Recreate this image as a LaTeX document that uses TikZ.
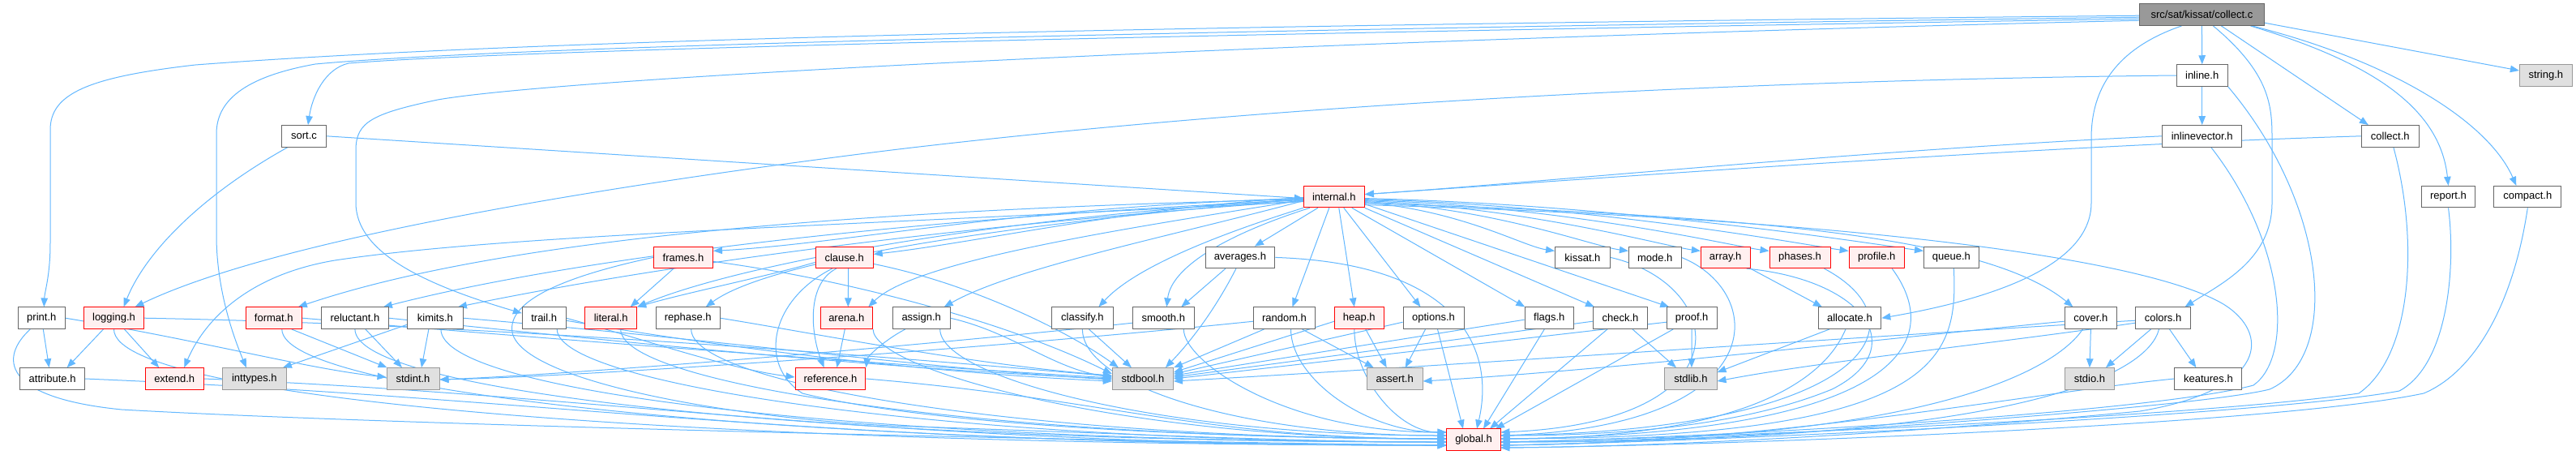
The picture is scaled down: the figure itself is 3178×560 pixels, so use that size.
\documentclass[tikz,border=0pt]{standalone}
\usepackage{fontspec}
\setmainfont{Liberation Sans}
\usetikzlibrary{arrows.meta}
\definecolor{edgec}{HTML}{63B8FF}
\definecolor{nodeb}{HTML}{666666}
\definecolor{redb}{HTML}{FF0000}
\definecolor{redf}{HTML}{FFF0F0}
\definecolor{sysb}{HTML}{999999}
\definecolor{sysf}{HTML}{E0E0E0}
\definecolor{rootf}{HTML}{999999}
\pgfdeclarelayer{bglayer}
\pgfdeclarelayer{edgelayer}
\pgfsetlayers{bglayer,edgelayer,main}
\begin{document}
\begin{tikzpicture}[x=1pt,y=1pt,
  base/.style={line width=1pt, minimum height=26.5pt, inner sep=0pt, font=\fontsize{13}{15}\selectfont},
  nd/.style={base, draw=nodeb, fill=white},
  rd/.style={base, draw=redb, fill=redf},
  sy/.style={base, draw=sysb, fill=sysf},
  rt/.style={base, draw=nodeb, fill=rootf},
  edg/.style={draw=edgec, line width=1pt, -{Triangle[length=11pt,width=8.5pt]}},
]
\begin{pgfonlayer}{bglayer}
\fill[white] (0,0) rectangle (3178,-560);
\end{pgfonlayer}
\useasboundingbox (0,0) rectangle (3178,-560);
% row 0
\node[rt, minimum width=154.1pt] (collectc) at (2716.4,-18.2) {src/sat/kissat/collect.c};
% row 1
\node[nd, minimum width=62.8pt] (inline) at (2716.7,-93) {inline.h};
\node[sy, minimum width=64.9pt] (string) at (3140.8,-93) {string.h};
% row 2
\node[nd, minimum width=54.4pt] (sortc) at (375,-167.8) {sort.c};
\node[nd, minimum width=98.5pt] (inlinevector) at (2716.7,-167.8) {inlinevector.h};
\node[nd, minimum width=70.6pt] (collecth) at (2948.8,-167.8) {collect.h};
% row 3
\node[rd, minimum width=75pt] (internal) at (1645.8,-242.6) {internal.h};
\node[nd, minimum width=65.8pt] (report) at (3020.5,-242.6) {report.h};
\node[nd, minimum width=83pt] (compact) at (3118.3,-242.6) {compact.h};
% row 4
\node[rd, minimum width=73pt] (frames) at (843,-317.4) {frames.h};
\node[rd, minimum width=71pt] (clause) at (1041.7,-317.4) {clause.h};
\node[nd, minimum width=85.7pt] (averages) at (1529.9,-317.4) {averages.h};
\node[nd, minimum width=67.8pt] (kissat) at (1952.4,-317.4) {kissat.h};
\node[nd, minimum width=64.6pt] (mode) at (2041.7,-317.4) {mode.h};
\node[rd, minimum width=60.7pt] (array) at (2128.7,-317.4) {array.h};
\node[rd, minimum width=75pt] (phases) at (2220.5,-317.4) {phases.h};
\node[rd, minimum width=68.3pt] (profile) at (2315.2,-317.4) {profile.h};
\node[nd, minimum width=67.9pt] (queue) at (2407.4,-317.4) {queue.h};
% row 5
\node[nd, minimum width=57.8pt] (print) at (51.3,-392.2) {print.h};
\node[rd, minimum width=73.6pt] (logging) at (140.5,-392.2) {logging.h};
\node[rd, minimum width=69.6pt] (format) at (337.8,-392.2) {format.h};
\node[nd, minimum width=82.3pt] (reluctant) at (437.9,-392.2) {reluctant.h};
\node[nd, minimum width=68.2pt] (kimits) at (536.9,-392.2) {kimits.h};
\node[nd, minimum width=53.7pt] (trail) at (671.2,-392.2) {trail.h};
\node[rd, minimum width=63.7pt] (literal) at (753.7,-392.2) {literal.h};
\node[nd, minimum width=78.8pt] (rephase) at (848.7,-392.2) {rephase.h};
\node[rd, minimum width=64.5pt] (arena) at (1044.3,-392.2) {arena.h};
\node[nd, minimum width=70.7pt] (assign) at (1136.7,-392.2) {assign.h};
\node[nd, minimum width=76.7pt] (classify) at (1335.4,-392.2) {classify.h};
\node[nd, minimum width=75.5pt] (smooth) at (1435.3,-392.2) {smooth.h};
\node[nd, minimum width=75.8pt] (random) at (1584.5,-392.2) {random.h};
\node[rd, minimum width=60.5pt] (heap) at (1676.8,-392.2) {heap.h};
\node[nd, minimum width=75pt] (options) at (1768.5,-392.2) {options.h};
\node[nd, minimum width=60.6pt] (flags) at (1911.3,-392.2) {flags.h};
\node[nd, minimum width=67.5pt] (check) at (1999,-392.2) {check.h};
\node[nd, minimum width=61.7pt] (proof) at (2087.2,-392.2) {proof.h};
\node[nd, minimum width=77.8pt] (allocate) at (2281.9,-392.2) {allocate.h};
\node[nd, minimum width=64.7pt] (cover) at (2579.4,-392.2) {cover.h};
\node[nd, minimum width=67.9pt] (colors) at (2668.5,-392.2) {colors.h};
% row 6
\node[nd, minimum width=79.5pt] (attribute) at (64.6,-467) {attribute.h};
\node[rd, minimum width=71.6pt] (extend) at (215.2,-467) {extend.h};
\node[sy, minimum width=78.8pt] (inttypes) at (313.9,-467) {inttypes.h};
\node[sy, minimum width=65pt] (stdint) at (509.5,-467) {stdint.h};
\node[rd, minimum width=86.9pt] (reference) at (1024.5,-467) {reference.h};
\node[sy, minimum width=75.1pt] (stdbool) at (1409.9,-467) {stdbool.h};
\node[sy, minimum width=68.6pt] (assert) at (1720.7,-467) {assert.h};
\node[sy, minimum width=64.2pt] (stdlib) at (2085.9,-467) {stdlib.h};
\node[sy, minimum width=60.9pt] (stdio) at (2577.9,-467) {stdio.h};
\node[nd, minimum width=83pt] (keatures) at (2724.4,-467) {keatures.h};
% row 7
\node[rd, minimum width=66.8pt] (global) at (1818,-541.8) {global.h};
% arrival points on global.h
\coordinate (gl1) at (1784.6,-533);
\coordinate (gl2) at (1784.6,-537);
\coordinate (gl3) at (1784.6,-541);
\coordinate (gl4) at (1784.6,-545);
\coordinate (gl5) at (1784.6,-549);
\coordinate (gr1) at (1851.4,-533);
\coordinate (gr2) at (1851.4,-537);
\coordinate (gr3) at (1851.4,-541);
\coordinate (gr4) at (1851.4,-545);
\coordinate (gr5) at (1851.4,-549);
\coordinate (gr6) at (1851.4,-552);
\coordinate (gt1) at (1805,-528.6);
\coordinate (gt2) at (1814,-528.6);
\coordinate (gt3) at (1822,-528.6);
\coordinate (gt4) at (1830,-528.6);
\coordinate (gt5) at (1838,-528.6);
\coordinate (gt6) at (1845,-528.6);

\begin{pgfonlayer}{edgelayer}
% ---------- collect.c
\draw[edg] (collectc.south) -- (inline.north);
\draw[edg] ([yshift=-10pt]collectc.east) -- ([yshift=6pt]string.west);
\draw[edg] ([xshift=62pt]collectc.south) .. controls (2950,-75) and (3070,-150) .. ([xshift=-14pt]compact.north);
\draw[edg] ([xshift=60pt]collectc.south) .. controls (2920,-75) and (3010,-130) .. (report.north);
\draw[edg] ([xshift=24pt]collectc.south) -- ([xshift=-27pt]collecth.north);
\draw[edg] ([xshift=14pt]collectc.south) .. controls (2800,-90) and (2803,-130) .. (2803,-170) -- (2803,-250) .. controls (2803,-320) and (2740,-350) .. ([xshift=27pt]colors.north);
\draw[edg] ([xshift=-25pt]collectc.south) .. controls (2610,-60) and (2580,-110) .. (2580,-170) -- (2580,-250) .. controls (2580,-330) and (2450,-370) .. (allocate.east);
\draw[edg] ([yshift=-1pt]collectc.west) .. controls (1600,-30) and (700,-45) .. (241,-80) .. controls (110,-95) and (62,-115) .. (62,-160) -- (62,-300) .. controls (62,-340) and (55,-360) .. ([xshift=3pt]print.north);
\draw[edg] ([yshift=-3pt]collectc.west) .. controls (1600,-35) and (650,-55) .. (389,-79) .. controls (300,-95) and (267,-125) .. (267,-165) -- (267,-290) .. controls (267,-360) and (290,-420) .. ([xshift=-10pt]inttypes.north);
\draw[edg] ([yshift=-5pt]collectc.west) .. controls (1600,-40) and (650,-60) .. (430,-78) .. controls (400,-85) and (385,-120) .. ([xshift=5pt]sortc.north);
\draw[edg] ([yshift=-7pt]collectc.west) .. controls (1600,-50) and (700,-95) .. (540,-123) .. controls (460,-140) and (439,-150) .. (439,-185) -- (439,-250) .. controls (439,-310) and (520,-350) .. ([yshift=6pt]trail.west);
% ---------- inline.h, inlinevector.h, collect.h, report.h, compact.h
\draw[edg] (inline.south) -- (inlinevector.north);
\draw[edg] (inline.west) .. controls (2200,-98) and (1600,-125) .. (1100,-185) .. controls (700,-235) and (330,-300) .. ([xshift=26pt]logging.north);
\draw[edg] (inline.south east) .. controls (2870,-250) and (2890,-440) .. (2800,-480) .. controls (2700,-505) and (2100,-545) .. (gr5);
\draw[edg] (inlinevector.west) .. controls (2300,-185) and (1900,-225) .. ([yshift=3pt]internal.east);
\draw[edg] ([xshift=11pt]inlinevector.south) .. controls (2820,-300) and (2830,-440) .. (2780,-475) .. controls (2650,-510) and (2100,-540) .. (gr4);
\draw[edg] (collecth.west) .. controls (2500,-180) and (1900,-225) .. ([yshift=3pt]internal.east);
\draw[edg] ([xshift=4pt]collecth.south) .. controls (2985,-300) and (2975,-440) .. (2910,-485) .. controls (2700,-515) and (2100,-540) .. (gr4);
\draw[edg] (report.south) .. controls (3030,-330) and (3020,-450) .. (2960,-482) .. controls (2800,-512) and (2100,-545) .. (gr5);
\draw[edg] (compact.south) .. controls (3100,-380) and (3050,-460) .. (2990,-485) .. controls (2800,-525) and (2100,-550) .. (gr6);
% ---------- sort.c
\draw[edg] (sortc.east) -- ([yshift=-2pt]internal.west);
\draw[edg] ([xshift=-20pt]sortc.south) .. controls (250,-240) and (180,-310) .. ([xshift=12pt]logging.north);
% ---------- internal.h
\draw[edg] ([yshift=-3pt]internal.west) .. controls (1000,-260) and (600,-300) .. ([xshift=30pt]format.north);
\draw[edg] ([yshift=-4pt]internal.west) .. controls (1100,-270) and (700,-320) .. ([xshift=35pt]reluctant.north);
\draw[edg] ([yshift=-5pt]internal.west) .. controls (1150,-280) and (800,-330) .. ([xshift=28pt]kimits.north);
\draw[edg] ([yshift=-6pt]internal.west) .. controls (1000,-280) and (620,-290) .. (413,-321) .. controls (300,-340) and (250,-400) .. ([xshift=12pt]extend.north);
\draw[edg] ([yshift=-2pt]internal.west) .. controls (1250,-255) and (1050,-300) .. ([yshift=8pt]frames.east);
\draw[edg] ([yshift=-3pt]internal.west) .. controls (1200,-270) and (900,-330) .. (literal.north east);
\draw[edg] ([yshift=-3pt]internal.west) .. controls (1250,-275) and (950,-320) .. ([xshift=22pt]rephase.north);
\draw[edg] ([yshift=-1pt]internal.west) .. controls (1400,-255) and (1200,-300) .. ([yshift=4pt]clause.east);
\draw[edg] ([yshift=-4pt]internal.west) .. controls (1400,-280) and (1130,-320) .. ([xshift=27pt]arena.north);
\draw[edg] ([yshift=-5pt]internal.west) .. controls (1450,-290) and (1250,-330) .. ([xshift=28pt]assign.north);
\draw[edg] (internal.south west) .. controls (1500,-290) and (1400,-330) .. ([xshift=20pt]classify.north);
\draw[edg] ([xshift=-30pt]internal.south) .. controls (1510,-290) and (1445,-330) .. ([xshift=4pt]smooth.north);
\draw[edg] ([xshift=-20pt]internal.south) -- ([xshift=18pt]averages.north);
\draw[edg] ([xshift=-6pt]internal.south) -- ([xshift=10pt]random.north);
\draw[edg] ([xshift=6pt]internal.south) -- ([xshift=-6pt]heap.north);
\draw[edg] ([xshift=12pt]internal.south) -- ([xshift=-16pt]options.north);
\draw[edg] ([xshift=22pt]internal.south) -- ([xshift=-30pt]flags.north);
\draw[edg] (internal.south east) -- ([xshift=-32pt]check.north);
\draw[edg] ([yshift=-9pt]internal.east) -- ([xshift=-28pt]proof.north);
\draw[edg] ([yshift=-7pt]internal.east) .. controls +(120,-10) and +(-40,6) .. ([yshift=8pt]kissat.west);
\draw[edg] ([yshift=-6pt]internal.east) .. controls +(160,-8) and +(-45,6) .. ([yshift=8pt]mode.west);
\draw[edg] ([yshift=-5pt]internal.east) .. controls +(200,-8) and +(-45,6) .. ([yshift=8pt]array.west);
\draw[edg] ([yshift=-4pt]internal.east) .. controls +(250,-8) and +(-45,6) .. ([yshift=8pt]phases.west);
\draw[edg] ([yshift=-3pt]internal.east) .. controls +(290,-8) and +(-45,6) .. ([yshift=8pt]profile.west);
\draw[edg] ([yshift=-2pt]internal.east) .. controls +(330,-8) and +(-45,6) .. ([yshift=8pt]queue.west);
\draw[edg] ([yshift=-8pt]internal.east) .. controls (2150,-265) and (2450,-290) .. ([xshift=-22pt]cover.north);
\draw[edg] ([yshift=-10pt]internal.east) .. controls (2300,-270) and (2650,-320) .. (2743,-375) .. controls (2800,-410) and (2800,-480) .. (2640,-507) .. controls (2400,-530) and (2100,-550) .. (gr6);
% ---------- row 4 sources
\draw[edg] ([xshift=-12pt]frames.south) -- ([xshift=24pt]literal.north);
\draw[edg] ([yshift=-5pt]frames.east) .. controls (1050,-345) and (1250,-400) .. ([yshift=6pt]stdbool.west);
\draw[edg] (frames.west) .. controls (700,-340) and (625,-370) .. (632,-410) .. controls (645,-470) and (900,-515) .. (1100,-525) .. controls (1400,-535) and (1600,-545) .. (gl4);
\draw[edg] ([yshift=-6pt]clause.west) .. controls (950,-340) and (850,-360) .. (literal.north east);
\draw[edg] ([xshift=5pt]clause.south) -- ([xshift=2pt]arena.north);
\draw[edg] ([xshift=-10pt]clause.south) .. controls (995,-350) and (1000,-410) .. ([xshift=-8pt]reference.north);
\draw[edg] ([xshift=-15pt]clause.south) .. controls (950,-370) and (935,-450) .. (990,-485) .. controls (1150,-525) and (1500,-540) .. (gl3);
\draw[edg] ([yshift=-8pt]clause.east) .. controls (1200,-350) and (1320,-410) .. ([xshift=-30pt]stdbool.north);
\draw[edg] ([xshift=-18pt]averages.south) -- ([xshift=22pt]smooth.north);
\draw[edg] ([xshift=-5pt]averages.south) .. controls (1500,-380) and (1470,-420) .. ([xshift=28pt]stdbool.north);
\draw[edg] (averages.east) .. controls (1800,-325) and (1845,-430) .. (gt3);
\draw[edg] (kissat.east) .. controls (2130,-350) and (2160,-520) .. (gr1);
\draw[edg] (mode.east) .. controls (2180,-360) and (2190,-525) .. (gr2);
\draw[edg] (array.south east) -- ([xshift=-34pt]allocate.north);
\draw[edg] ([xshift=26pt]array.south) .. controls (2300,-345) and (2360,-430) .. (2260,-480) .. controls (2150,-525) and (2000,-537) .. (gr2);
\draw[edg] ([xshift=30pt]phases.south) .. controls (2380,-400) and (2300,-530) .. (gr2);
\draw[edg] ([xshift=19pt]profile.south) .. controls (2400,-420) and (2350,-535) .. (gr3);
\draw[edg] ([xshift=3pt]queue.south) .. controls (2415,-440) and (2400,-540) .. (gr3);
% ---------- row 5 sources
\draw[edg] ([xshift=2pt]print.south) -- ([xshift=-4pt]attribute.north);
\draw[edg] (print.east) .. controls (250,-420) and (380,-455) .. ([yshift=2pt]stdint.west);
\draw[edg] ([xshift=-14pt]print.south) .. controls (0,-440) and (0,-490) .. (150,-505) .. controls (500,-525) and (1400,-545) .. (gl5);
\draw[edg] ([xshift=-13pt]logging.south) -- ([xshift=18pt]attribute.north);
\draw[edg] ([xshift=13pt]logging.south) -- ([xshift=-19pt]extend.north);
\draw[edg] (logging.east) .. controls (600,-400) and (1100,-440) .. ([yshift=3pt]stdbool.west);
\draw[edg] (logging.south) .. controls +(0,-90) and +(-900,0) .. (gl5);
\draw[edg] ([xshift=22pt]format.south) -- ([xshift=-32pt]stdint.north);
\draw[edg] (format.east) .. controls (700,-420) and (1100,-450) .. ([yshift=1pt]stdbool.west);
\draw[edg] ([xshift=10pt]format.south) .. controls +(0,-80) and +(-800,0) .. (gl5);
\draw[edg] ([xshift=13pt]reluctant.south) -- ([xshift=-13.5pt]stdint.north);
\draw[edg] (reluctant.east) .. controls (800,-425) and (1100,-455) .. (stdbool.west);
\draw[edg] (reluctant.south) .. controls +(0,-80) and +(-750,0) .. (gl4);
\draw[edg] ([xshift=-8pt]kimits.south) -- ([xshift=10.5pt]stdint.north);
\draw[edg] ([yshift=-8pt]kimits.west) -- ([xshift=35pt]inttypes.north);
\draw[edg] (kimits.east) .. controls (900,-420) and (1150,-455) .. ([yshift=-1pt]stdbool.west);
\draw[edg] ([xshift=7pt]kimits.south) .. controls +(0,-80) and +(-700,0) .. (gl4);
\draw[edg] (trail.east) .. controls (800,-420) and (900,-455) .. ([yshift=2pt]reference.west);
\draw[edg] ([yshift=-3pt]trail.east) .. controls (900,-430) and (1150,-460) .. ([yshift=-3pt]stdbool.west);
\draw[edg] ([xshift=16pt]trail.south) .. controls +(0,-70) and +(-600,0) .. (gl4);
\draw[edg] ([xshift=12pt]literal.south) .. controls +(0,-70) and +(-550,0) .. (gl3);
\draw[edg] (rephase.east) .. controls (1000,-410) and (1200,-450) .. ([yshift=4pt]stdbool.west);
\draw[edg] ([xshift=4pt]rephase.south) .. controls +(0,-70) and +(-500,0) .. (gl3);
\draw[edg] ([xshift=-2pt]arena.south) -- ([xshift=8pt]reference.north);
\draw[edg] (arena.south east) .. controls +(0,-50) and +(-400,0) .. (gl3);
\draw[edg] ([xshift=-20pt]assign.south) .. controls (1090,-420) and (1070,-440) .. (reference.north east);
\draw[edg] (assign.east) .. controls (1250,-410) and (1300,-455) .. ([yshift=2pt]stdbool.west);
\draw[edg] ([xshift=23pt]assign.south) .. controls +(0,-60) and +(-350,0) .. (gl2);
\draw[edg] ([xshift=8pt]classify.south) -- ([xshift=-14pt]stdbool.north);
\draw[edg] (classify.south) .. controls +(0,-70) and +(-250,0) .. (gl2);
\draw[edg] ([yshift=-6pt]smooth.west) .. controls (1100,-430) and (700,-462) .. ([yshift=-1pt]stdint.east);
\draw[edg] ([xshift=25pt]smooth.south) .. controls +(0,-40) and +(-200,0) .. (gl1);
\draw[edg] ([yshift=-4pt]random.west) .. controls (1200,-432) and (700,-465) .. ([yshift=-1pt]stdint.east);
\draw[edg] ([xshift=-25pt]random.south) -- (stdbool.north east);
\draw[edg] ([xshift=22pt]random.south) -- ([xshift=-26pt]assert.north);
\draw[edg] ([xshift=8pt]random.south) .. controls +(0,-60) and +(-100,0) .. (gl1);
\draw[edg] ([yshift=-4pt]heap.west) -- ([yshift=8pt]stdbool.east);
\draw[edg] ([xshift=8pt]heap.south) -- ([xshift=-10pt]assert.north);
\draw[edg] ([xshift=-6pt]heap.south) .. controls +(0,-60) and +(-60,0) .. (gl1);
\draw[edg] ([yshift=-5pt]options.west) -- ([yshift=6pt]stdbool.east);
\draw[edg] ([xshift=-10pt]options.south) -- ([xshift=13pt]assert.north);
\draw[edg] ([xshift=5pt]options.south) -- (gt1);
\draw[edg] ([yshift=-2pt]flags.west) -- ([yshift=4pt]stdbool.east);
\draw[edg] ([xshift=-6pt]flags.south) -- (gt4);
\draw[edg] ([yshift=-4pt]check.west) -- ([yshift=2pt]stdbool.east);
\draw[edg] ([xshift=15pt]check.south) -- ([xshift=-18pt]stdlib.north);
\draw[edg] ([xshift=-16pt]check.south) -- (gt5);
\draw[edg] ([yshift=-5pt]proof.west) -- (stdbool.east);
\draw[edg] (proof.south) -- ([xshift=1pt]stdlib.north);
\draw[edg] ([xshift=-23pt]proof.south) -- (gt6);
\draw[edg] ([xshift=-25pt]allocate.south) -- ([yshift=8pt]stdlib.east);
\draw[edg] ([xshift=-5pt]allocate.south) .. controls (2250,-470) and (2150,-540) .. (gr3);
\draw[edg] (cover.south) -- (stdio.north);
\draw[edg] ([yshift=-4pt]cover.west) .. controls (2300,-420) and (2000,-455) .. ([yshift=-3pt]assert.east);
\draw[edg] ([xshift=-10pt]cover.south) .. controls (2540,-450) and (2400,-545) .. (gr4);
\draw[edg] ([xshift=-15pt]colors.south) -- ([xshift=20pt]stdio.north);
\draw[edg] ([xshift=8pt]colors.south) -- ([xshift=-15pt]keatures.north);
\draw[edg] ([yshift=-6pt]colors.west) .. controls (2450,-425) and (2250,-445) .. ([yshift=-3pt]stdlib.east);
\draw[edg] ([yshift=-3pt]colors.west) .. controls (2300,-415) and (1800,-450) .. ([yshift=-3pt]stdbool.east);
\draw[edg] ([xshift=-5pt]colors.south) .. controls (2650,-460) and (2500,-545) .. (gr4);
% ---------- row 6 sources
\draw[edg] (attribute.east) .. controls +(600,-25) and +(-800,0) .. (gl5);
\draw[edg] (extend.east) .. controls +(500,-20) and +(-700,0) .. (gl5);
\draw[edg] (reference.east) .. controls +(300,-25) and +(-300,0) .. (gl3);
\draw[edg] (keatures.west) .. controls (2500,-485) and (2200,-545) .. (gr5);
\end{pgfonlayer}
\end{tikzpicture}
\end{document}
